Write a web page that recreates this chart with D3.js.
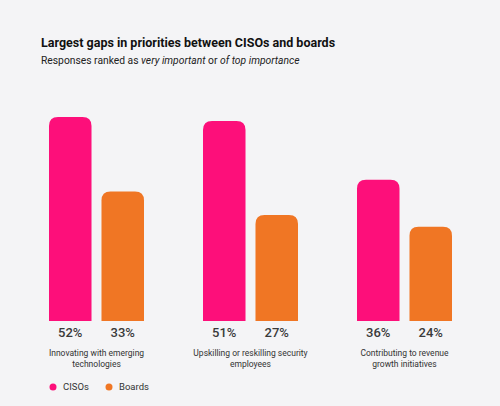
<!DOCTYPE html>
<html>
<head>
<meta charset="utf-8">
<script src="https://cdn.jsdelivr.net/npm/d3@7"></script>
<style>
  html, body { margin: 0; padding: 0; background: #f4f4f6; }
  svg { display: block; font-family: Roboto, "Noto Sans", sans-serif; }
</style>
</head>
<body>
<div id="chart"></div>
<script>
// Data
const categories = ['Innovating with emerging technologies', 'Upskilling or reskilling security employees', 'Contributing to revenue growth initiatives'];
const categoryLines = [['Innovating with emerging', 'technologies'], ['Upskilling or reskilling security', 'employees'], ['Contributing to revenue', 'growth initiatives']];
const series = ['CISOs', 'Boards'];
const cisoValues = [52, 51, 36];
const boardValues = [33, 27, 24];

function drawChart() {
    const width = 500;
    const height = 406;
    const colors = { CISOs: '#fd0f7a', Boards: '#f07624' };

    const svg = d3.select('#chart')
        .append('svg')
        .attr('width', width)
        .attr('height', height);

    svg.append('rect')
        .attr('width', width)
        .attr('height', height)
        .attr('fill', '#f4f4f6');

    // Title and subtitle
    svg.append('text')
        .attr('x', 41)
        .attr('y', 47)
        .attr('font-size', 12.5)
        .attr('font-weight', 700)
        .attr('fill', '#111')
        .text('Largest gaps in priorities between CISOs and boards');

    const sub = svg.append('text')
        .attr('x', 41)
        .attr('y', 64)
        .attr('font-size', 10.3)
        .attr('fill', '#222');
    sub.append('tspan').text('Responses ranked as ');
    sub.append('tspan').attr('font-style', 'italic').text('very important');
    sub.append('tspan').text(' or ');
    sub.append('tspan').attr('font-style', 'italic').text('of top importance');

    // Scales
    const x0 = d3.scaleBand()
        .domain(categories)
        .range([49, 511]);

    const x1 = d3.scaleBand()
        .domain(series)
        .range([0, 95])
        .paddingInner(0.19);

    const y = d3.scaleLinear()
        .domain([0, 52])
        .range([321, 117]);

    const rows = categories.map((c, i) => ({
        category: c,
        lines: categoryLines[i],
        values: [
            { key: 'CISOs', value: cisoValues[i] },
            { key: 'Boards', value: boardValues[i] }
        ]
    }));

    // Bars with rounded tops only
    function topRounded(x, yTop, w, h, r) {
        r = Math.min(r, w / 2, h);
        return `M${x},${yTop + h}V${yTop + r}Q${x},${yTop} ${x + r},${yTop}` +
            `H${x + w - r}Q${x + w},${yTop} ${x + w},${yTop + r}V${yTop + h}Z`;
    }

    const groups = svg.selectAll('.group')
        .data(rows)
        .enter()
        .append('g')
        .attr('class', 'group')
        .attr('transform', d => `translate(${x0(d.category)},0)`);

    groups.selectAll('path')
        .data(d => d.values)
        .enter()
        .append('path')
        .attr('fill', d => colors[d.key])
        .attr('d', d => topRounded(x1(d.key), y(d.value), x1.bandwidth(), y(0) - y(d.value), 9));

    // Value labels
    groups.selectAll('.val')
        .data(d => d.values)
        .enter()
        .append('text')
        .attr('class', 'val')
        .attr('x', d => x1(d.key) + x1.bandwidth() / 2)
        .attr('y', 337)
        .attr('text-anchor', 'middle')
        .attr('font-size', 13)
        .attr('font-weight', 500)
        .attr('fill', '#3a3a3a')
        .text(d => d.value + '%');

    // Category labels
    groups.append('text')
        .attr('text-anchor', 'middle')
        .attr('font-size', 8.5)
        .attr('fill', '#333')
        .selectAll('tspan')
        .data(d => d.lines)
        .enter()
        .append('tspan')
        .attr('x', 47.5)
        .attr('y', (d, i) => 356 + i * 11)
        .text(d => d);

    // Legend
    const legendX = [53, 109];
    const legend = svg.selectAll('.legend-entry')
        .data(series)
        .enter()
        .append('g')
        .attr('class', 'legend-entry')
        .attr('transform', (d, i) => `translate(${legendX[i]}, 387)`);

    legend.append('circle')
        .attr('r', 3.5)
        .attr('fill', d => colors[d]);

    legend.append('text')
        .attr('x', 10)
        .attr('y', 3.3)
        .attr('font-size', 9.5)
        .attr('fill', '#333')
        .text(d => d);
}

document.addEventListener('DOMContentLoaded', drawChart);
</script>
</body>
</html>
